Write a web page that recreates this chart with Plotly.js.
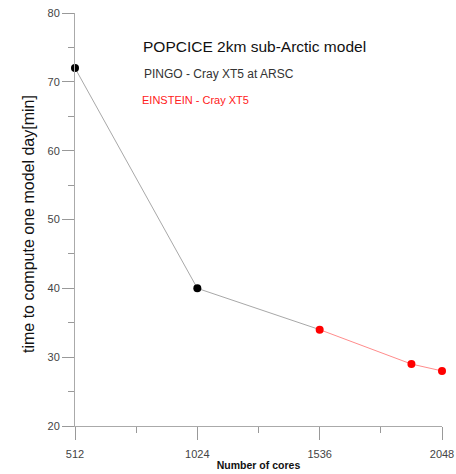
<!DOCTYPE html>
<html>
<head>
<meta charset="utf-8">
<script src="https://cdn.plot.ly/plotly-3.0.1.min.js"></script>
<style>html,body{margin:0;padding:0;background:#fff}#chart{width:456px;height:474px}</style>
</head>
<body>
<div id="chart"></div>
<script>
const pingoCores = [512, 1024];
const pingoTime = [72, 40];
const einsteinCores = [1536, 1920, 2048];
const einsteinTime = [34, 29, 28];
const xTicks = [512, 1024, 1536, 2048];
const yTicks = [20, 30, 40, 50, 60, 70, 80];

const FONT = 'Arial, "Liberation Sans", sans-serif';

const traces = [
  {
    x: pingoCores.concat([einsteinCores[0]]),
    y: pingoTime.concat([einsteinTime[0]]),
    mode: 'lines',
    line: {color: '#a8a8a8', width: 1},
    hoverinfo: 'skip',
    showlegend: false,
    cliponaxis: false
  },
  {
    x: einsteinCores,
    y: einsteinTime,
    mode: 'lines+markers',
    line: {color: '#ff8c8c', width: 1},
    marker: {color: '#ff0000', size: 8},
    showlegend: false,
    cliponaxis: false
  },
  {
    x: pingoCores,
    y: pingoTime,
    mode: 'markers',
    marker: {color: '#000000', size: 8},
    showlegend: false,
    cliponaxis: false
  }
];

const layout = {
  width: 456, height: 474,
  margin: {l: 75, r: 14, t: 13, b: 48},
  paper_bgcolor: '#fff', plot_bgcolor: '#fff',
  font: {family: FONT, color: '#444'},
  xaxis: {
    range: [512, 2048],
    tickmode: 'array', tickvals: xTicks, ticktext: xTicks.map(String),
    ticks: 'outside', ticklen: 13, tickcolor: '#999', tickwidth: 1,
    ticklabelstandoff: 5,
    minor: {tickmode: 'linear', tick0: 512, dtick: 256, ticks: 'outside', ticklen: 6, tickcolor: '#999'},
    showline: true, linecolor: '#aaa', linewidth: 1,
    showgrid: false, zeroline: false,
    tickfont: {size: 11, color: '#444', family: FONT},
    title: {text: '<b>Number of cores</b>', font: {size: 10.5, color: '#111', family: FONT}, standoff: 2}
  },
  yaxis: {
    range: [20, 80],
    tickmode: 'array', tickvals: yTicks, ticktext: yTicks.map(String),
    ticks: 'outside', ticklen: 12, tickcolor: '#999', tickwidth: 1,
    minor: {tickmode: 'linear', tick0: 20, dtick: 5, ticks: 'outside', ticklen: 6, tickcolor: '#999'},
    showline: true, linecolor: '#aaa', linewidth: 1,
    showgrid: false, zeroline: false,
    tickfont: {size: 11, color: '#444', family: FONT}
  },
  annotations: [
    {xref: 'paper', yref: 'paper', x: (28 - 75) / 367, y: (426 - 224) / 413, xanchor: 'center', yanchor: 'middle',
     textangle: -90, text: 'time to compute one model day[min]', showarrow: false,
     font: {size: 16, color: '#111', family: FONT}},
    {xref: 'paper', yref: 'paper', x: (141 - 75) / 367, y: (426 - 47) / 413, xanchor: 'left', yanchor: 'middle',
     text: 'POPCICE 2km sub-Arctic model', showarrow: false, font: {size: 15.5, color: '#111', family: FONT}},
    {xref: 'paper', yref: 'paper', x: (142 - 75) / 367, y: (426 - 74) / 413, xanchor: 'left', yanchor: 'middle',
     text: 'PINGO - Cray XT5 at ARSC', showarrow: false, font: {size: 12, color: '#333', family: FONT}},
    {xref: 'paper', yref: 'paper', x: (140 - 75) / 367, y: (426 - 100) / 413, xanchor: 'left', yanchor: 'middle',
     text: 'EINSTEIN - Cray XT5', showarrow: false, font: {size: 11, color: '#ff2020', family: FONT}}
  ]
};

Plotly.newPlot('chart', traces, layout, {displayModeBar: false, staticPlot: true});
</script>
</body>
</html>
